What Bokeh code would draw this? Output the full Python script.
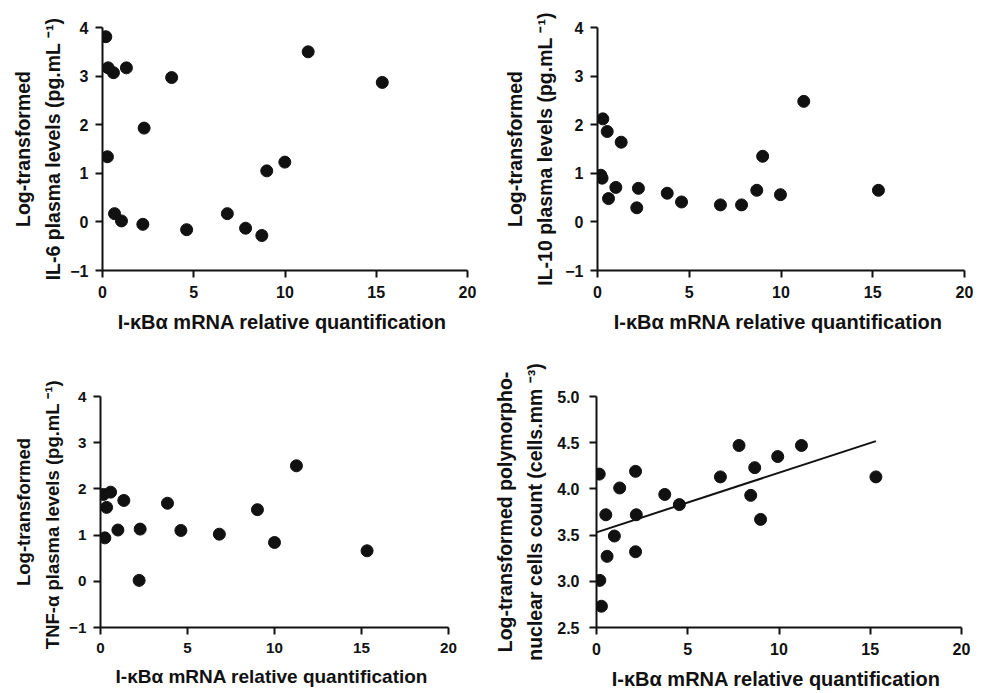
from bokeh.plotting import figure
from bokeh.layouts import row, column
from bokeh.models import FixedTicker, PrintfTickFormatter, Range1d
from bokeh.embed import file_html
from bokeh.resources import INLINE

# ---------------- data ----------------
x_ticks = [0, 5, 10, 15, 20]
cyt_ticks = [-1, 0, 1, 2, 3, 4]
pmn_ticks = [2.5, 3.0, 3.5, 4.0, 4.5, 5.0]

x_title = "I-\u03baB\u03b1  mRNA relative quantification"

il6_x = [0.18, 0.31, 0.60, 1.31, 3.79, 2.28, 0.27, 0.66, 1.04, 2.21, 4.61, 6.84, 7.84, 8.73, 9.00, 9.99, 11.27, 15.33]
il6_y = [3.81, 3.17, 3.07, 3.17, 2.97, 1.93, 1.34, 0.17, 0.02, -0.05, -0.16, 0.17, -0.13, -0.28, 1.05, 1.23, 3.50, 2.87]

il10_x = [0.18, 0.25, 0.29, 0.53, 0.60, 1.00, 1.29, 2.23, 2.14, 3.80, 4.58, 6.70, 7.85, 8.68, 9.00, 9.97, 11.24, 15.31]
il10_y = [0.96, 0.90, 2.12, 1.86, 0.48, 0.71, 1.64, 0.69, 0.29, 0.59, 0.41, 0.35, 0.35, 0.65, 1.35, 0.56, 2.48, 0.65]

tnf_x = [0.17, 0.58, 0.35, 0.25, 1.00, 1.34, 2.28, 2.22, 3.85, 4.62, 6.83, 9.02, 10.00, 11.26, 15.32]
tnf_y = [1.88, 1.93, 1.60, 0.94, 1.11, 1.75, 1.13, 0.02, 1.69, 1.10, 1.02, 1.55, 0.84, 2.50, 0.66]

pmn_x = [0.15, 0.18, 0.27, 0.51, 0.58, 0.98, 1.27, 2.14, 2.18, 2.14, 3.74, 4.54, 6.79, 7.81, 8.45, 8.67, 8.99, 9.93, 11.23, 15.31]
pmn_y = [4.16, 3.01, 2.73, 3.72, 3.27, 3.49, 4.01, 4.19, 3.72, 3.32, 3.94, 3.83, 4.13, 4.47, 3.93, 4.23, 3.67, 4.35, 4.47, 4.13]

fit_intercept = 3.53
fit_slope = 0.0645

FONT = "Liberation Sans"
INK = "#111111"


def panel(w, h, left, right, top, bottom, xs, ys, yr, yticks, ylabel, yfmt=None,
          scale=1.0, y_lab_off=7, y_title_off=7):
    p = figure(width=w, height=h, x_range=Range1d(0, 20), y_range=Range1d(*yr),
               output_backend="svg", toolbar_location=None,
               min_border_left=left, min_border_right=right,
               min_border_top=top, min_border_bottom=bottom)
    p.outline_line_color = None
    p.xgrid.visible = False
    p.ygrid.visible = False
    p.background_fill_color = "white"
    p.border_fill_color = "white"
    p.scatter(xs, ys, size=12, color=INK, line_color=INK)
    p.xaxis.ticker = FixedTicker(ticks=x_ticks)
    p.yaxis.ticker = FixedTicker(ticks=yticks)
    if yfmt:
        p.yaxis.formatter = PrintfTickFormatter(format=yfmt)
    p.xaxis.axis_label = x_title
    p.yaxis.axis_label = ylabel
    for ax in (p.xaxis[0], p.yaxis[0]):
        ax.axis_line_width = 2
        ax.axis_line_color = INK
        ax.major_tick_line_width = 2
        ax.major_tick_line_color = INK
        ax.major_tick_out = 7
        ax.major_tick_in = 0
        ax.minor_tick_line_color = None
        ax.major_label_text_font = FONT
        ax.major_label_text_font_style = "bold"
        ax.major_label_text_font_size = "%.1fpx" % (16 * scale)
        ax.major_label_text_color = INK
        ax.axis_label_text_font = FONT
        ax.axis_label_text_font_style = "bold"
        ax.axis_label_text_color = INK
        ax.axis_label_text_line_height = 1.38
    xa, ya = p.xaxis[0], p.yaxis[0]
    xa.major_label_standoff = 8
    xa.axis_label_standoff = 10
    xa.axis_label_text_font_size = "%.1fpx" % (20 * scale)
    ya.major_label_standoff = y_lab_off
    ya.axis_label_standoff = y_title_off
    ya.axis_label_text_font_size = "%.1fpx" % (19.5 * scale)
    return p


p1 = panel(490, 342, 102, 23, 27, 72, il6_x, il6_y, (-1, 4), cyt_ticks,
           "Log-transformed\nIL-6 plasma levels (pg.mL \u207b\u00b9)",
           y_lab_off=7, y_title_off=3)
p2 = panel(496, 342, 107, 22, 25, 72, il10_x, il10_y, (-1, 4), cyt_ticks,
           "Log-transformed\nIL-10 plasma levels (pg.mL \u207b\u00b9)",
           y_lab_off=7, y_title_off=6)
p3 = panel(490, 351, 100, 42, 54, 66, tnf_x, tnf_y, (-1, 4), cyt_ticks,
           "Log-transformed\nTNF-\u03b1  plasma levels (pg.mL \u207b\u00b9)",
           scale=0.95, y_lab_off=7, y_title_off=3)
p4 = panel(496, 351, 104, 25, 45, 61, pmn_x, pmn_y, (2.5, 5.0), pmn_ticks,
           "Log-transformed polymorpho-\nnuclear cells count (cells.mm \u207b\u00b3)", "%.1f",
           y_lab_off=10, y_title_off=8)

fit_x = [0, max(pmn_x)]
fit_y = [fit_intercept + fit_slope * v for v in fit_x]
p4.line(fit_x, fit_y, line_width=2, color=INK)

layout = column(row(p1, p2), row(p3, p4))
open("out.html", "w").write(file_html(layout, INLINE))
